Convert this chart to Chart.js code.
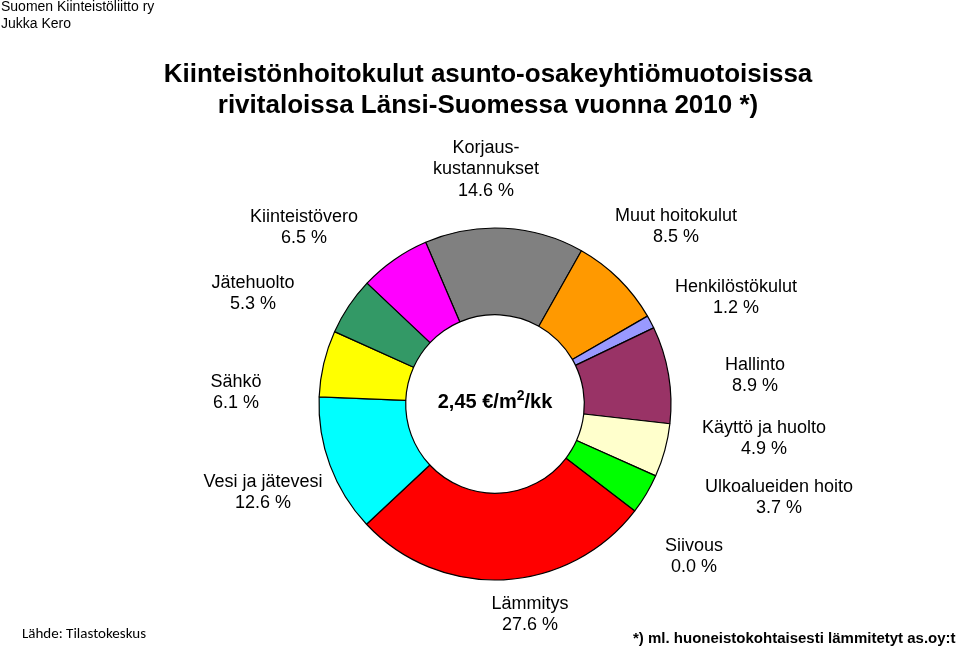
<!DOCTYPE html>
<html>
<head>
<meta charset="utf-8">
<script src="https://cdn.jsdelivr.net/npm/chart.js@4"></script>
<style>
  html, body { margin: 0; padding: 0; background: #fff; }
  #wrap { width: 960px; height: 650px; position: relative; }
</style>
</head>
<body>
<div id="wrap"><canvas id="kulut" width="960" height="650"></canvas></div>
<script>
// kululajit myötäpäivään ylhäältä alkaen
const kululajit = ['Korjaus-\nkustannukset', 'Muut hoitokulut', 'Henkilöstökulut', 'Hallinto',
  'Käyttö ja huolto', 'Ulkoalueiden hoito', 'Siivous', 'Lämmitys', 'Vesi ja jätevesi',
  'Sähkö', 'Jätehuolto', 'Kiinteistövero'];
const osuudet = [14.6, 8.5, 1.2, 8.9, 4.9, 3.7, 0.0, 27.6, 12.6, 6.1, 5.3, 6.5];
const varit = ['#808080', '#FF9900', '#9999FF', '#993366', '#FFFFCC', '#00FF00',
  '#CC99FF', '#FF0000', '#00FFFF', '#FFFF00', '#339966', '#FF00FF'];
const keskiarvo = ['2,45 €/m', '2', '/kk'];

// tekstien paikat (keskikohta x, ensimmäisen rivin y)
const tekstiPaikat = [
  [486, 148], [676, 216], [736, 287], [755, 365], [764, 428], [779, 487],
  [694, 546], [530, 604], [263, 482], [236, 382], [253, 283], [304, 217]
];

const tekstit = {
  id: 'tekstit',
  afterDraw(chart) {
    const ctx = chart.ctx;
    ctx.save();
    ctx.fillStyle = '#000';
    ctx.textBaseline = 'middle';

    // ylätunniste
    ctx.textAlign = 'left';
    ctx.font = '14px "Liberation Sans", Arial, sans-serif';
    ctx.fillText('Suomen Kiinteistöliitto ry', 1, 7);
    ctx.fillText('Jukka Kero', 1, 24);

    // otsikko
    ctx.textAlign = 'center';
    ctx.font = 'bold 26px "Liberation Sans", Arial, sans-serif';
    ctx.fillText('Kiinteistönhoitokulut asunto-osakeyhtiömuotoisissa', 488, 75);
    ctx.fillText('rivitaloissa Länsi-Suomessa vuonna 2010 *)', 488, 106);

    // sektorien nimet
    ctx.font = '18px "Liberation Sans", Arial, sans-serif';
    kululajit.forEach((nimi, i) => {
      const [x, y] = tekstiPaikat[i];
      const rivit = nimi.split('\n').concat(osuudet[i].toFixed(1) + ' %');
      rivit.forEach((r, j) => ctx.fillText(r, x, y + j * 21.5));
    });

    // keskiteksti, yläindeksi erikseen
    const meta = chart.getDatasetMeta(0).data[0];
    const isot = 'bold 20px "Liberation Sans", Arial, sans-serif';
    const pienet = 'bold 14px "Liberation Sans", Arial, sans-serif';
    ctx.font = isot;
    const w1 = ctx.measureText(keskiarvo[0]).width;
    const w3 = ctx.measureText(keskiarvo[2]).width;
    ctx.font = pienet;
    const w2 = ctx.measureText(keskiarvo[1]).width;
    let x = meta.x - (w1 + w2 + w3) / 2;
    const y = meta.y - 2;
    ctx.textAlign = 'left';
    ctx.font = isot;
    ctx.fillText(keskiarvo[0], x, y);
    ctx.font = pienet;
    ctx.fillText(keskiarvo[1], x + w1, y - 6);
    ctx.font = isot;
    ctx.fillText(keskiarvo[2], x + w1 + w2, y);

    // alatunnisteet
    ctx.font = '15px Carlito, Calibri, "Open Sans", sans-serif';
    ctx.fillText('Lähde: Tilastokeskus', 22, 634);
    ctx.font = 'bold 15px "Liberation Sans", Arial, sans-serif';
    ctx.fillText('*) ml. huoneistokohtaisesti lämmitetyt as.oy:t', 633, 639);
    ctx.restore();
  }
};

const ctx = document.getElementById('kulut').getContext('2d');
new Chart(ctx, {
  type: 'doughnut',
  data: {
    labels: kululajit,
    datasets: [{
      data: osuudet,
      backgroundColor: varit,
      borderColor: '#000',
      borderWidth: 1.2,
    }],
  },
  options: {
    responsive: false,
    animation: false,
    rotation: -23.2,
    radius: 176,
    cutout: 89,
    layout: { padding: { left: 319, right: 289, top: 228, bottom: 70 } },
    plugins: {
      legend: { display: false },
      tooltip: { enabled: false },
      title: { display: false },
    },
  },
  plugins: [tekstit],
});
</script>
</body>
</html>
